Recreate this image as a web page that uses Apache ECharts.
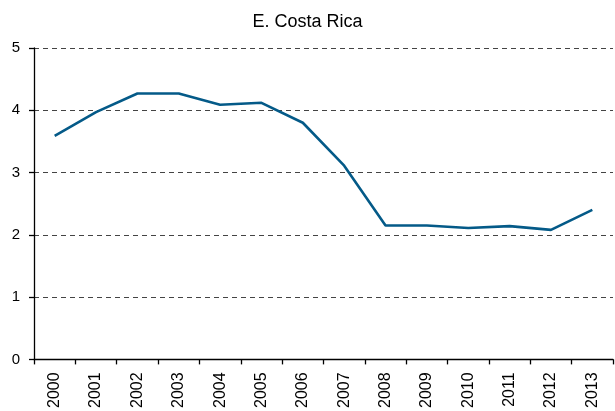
<!DOCTYPE html>
<html><head><meta charset="utf-8">
<script src="https://cdn.jsdelivr.net/npm/echarts@6/dist/echarts.min.js"></script>
<style>html,body{margin:0;padding:0;background:#fff}#c{width:615px;height:411px}</style>
</head><body><div id="c"></div>
<script>
const titleText = "E. Costa Rica";
const years = ["2000","2001","2002","2003","2004","2005","2006","2007","2008","2009","2010","2011","2012","2013"];
const values = [3.59, 3.97, 4.27, 4.27, 4.09, 4.12, 3.80, 3.11, 2.15, 2.15, 2.11, 2.14, 2.08, 2.40];
const yTicks = [0, 1, 2, 3, 4, 5];

const chart = echarts.init(document.getElementById('c'), null, {renderer:'canvas'});
chart.setOption({
  animation:false,
  backgroundColor:'#fff',
  title:{text:titleText,left:'center',top:8,textStyle:{fontFamily:'Liberation Sans, Arial',fontSize:18,fontWeight:'normal',color:'#000'}},
  grid:{left:34,right:2,top:48,bottom:51,containLabel:false},
  xAxis:{type:'category',data:years,boundaryGap:true,
    axisLine:{lineStyle:{color:'#000',width:1.3}},
    axisTick:{show:true,length:5,alignWithLabel:false,lineStyle:{color:'#000',width:1.3}},
    axisLabel:{rotate:90,fontFamily:'Liberation Sans, Arial',fontSize:16,color:'#000',margin:13},
    splitLine:{show:false}},
  yAxis:{type:'value',min:yTicks[0],max:yTicks[yTicks.length-1],interval:1,
    axisLine:{show:true,lineStyle:{color:'#000',width:1.3}},
    axisTick:{show:true,length:5,lineStyle:{color:'#000',width:1.3}},
    axisLabel:{fontFamily:'Liberation Sans, Arial',fontSize:15,color:'#000',margin:14},
    splitLine:{show:true,lineStyle:{color:'#444',type:[5,4],width:1}}},
  series:[{type:'line',data:values,symbol:'none',lineStyle:{color:'#045a88',width:2.6},itemStyle:{color:'#045a88'}}]
});
</script></body></html>
